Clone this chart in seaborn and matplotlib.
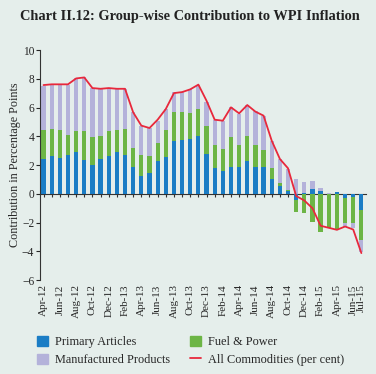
import matplotlib
matplotlib.use("Agg")
import matplotlib.pyplot as plt
from matplotlib.patches import Patch
from matplotlib.lines import Line2D
import numpy as np
import pandas as pd
import seaborn as sns

# meses de Apr-12 a Jul-15
meses = pd.date_range("2012-04-01", "2015-07-01", freq="MS").strftime("%b-%y").tolist()

primary = [2.40, 2.66, 2.49, 2.72, 2.93, 2.35, 2.00, 2.42, 2.66, 2.88,
           2.73, 1.85, 1.27, 1.44, 2.27, 2.59, 3.66, 3.72, 3.85, 4.05,
           2.78, 1.78, 1.62, 1.85, 1.85, 2.27, 1.85, 1.85, 1.04, 0.53,
           0.23, -0.46, 0.03, 0.32, 0.23, 0.02, 0.12, -0.28, -0.19, -1.11]
fuel = [2.02, 1.84, 1.94, 1.36, 1.42, 2.02, 1.94, 1.63, 1.69, 1.56,
        1.78, 1.37, 1.45, 1.22, 1.27, 1.85, 2.01, 1.95, 1.75, 1.85,
        1.92, 1.65, 1.51, 2.09, 1.58, 1.78, 1.58, 1.23, 0.74, 0.21,
        0.05, -0.81, -1.36, -1.97, -2.62, -2.40, -2.45, -1.76, -1.85, -2.13]
manuf = [3.10, 3.07, 3.16, 3.49, 3.68, 3.73, 3.40, 3.24, 2.99, 2.85,
         2.78, 2.45, 1.98, 1.92, 1.55, 1.46, 1.39, 1.44, 1.69, 1.70,
         1.67, 1.71, 1.96, 2.08, 2.13, 2.15, 2.31, 2.36, 1.92, 1.69,
         1.46, 1.02, 0.83, 0.56, 0.19, 0.04, 0.00, -0.23, -0.34, -0.81]
all_comm = [7.57, 7.62, 7.62, 7.62, 8.03, 8.10, 7.36, 7.31, 7.36, 7.31,
            7.31, 5.67, 4.75, 4.58, 5.16, 5.90, 7.01, 7.08, 7.27, 7.60,
            6.48, 5.16, 5.09, 6.02, 5.60, 6.18, 5.72, 5.44, 3.70, 2.43,
            1.78, -0.15, -0.46, -1.00, -2.22, -2.36, -2.50, -2.27, -2.48, -4.12]

rotulos = meses[::2] + [meses[-1]]

cor_bg = "#e5eeeb"
cores = {"Primary Articles": "#1b7dc5",
         "Fuel & Power": "#6cb545",
         "Manufactured Products": "#b4b2da"}

sns.set_theme(style="white")
plt.rcParams["font.family"] = ["Liberation Serif", "DejaVu Serif"]

fig = plt.figure(figsize=(3.76, 3.74), dpi=100, facecolor=cor_bg)
ax = fig.add_axes([0.106, 0.251, 0.867, 0.615], facecolor=cor_bg)

x = np.arange(len(meses))
pos = np.zeros(len(x))
neg = np.zeros(len(x))
for nome, vals in [("Primary Articles", primary), ("Fuel & Power", fuel),
                   ("Manufactured Products", manuf)]:
    v = np.array(vals)
    base = np.where(v >= 0, pos, neg)
    ax.bar(x, v, bottom=base, width=0.52, color=cores[nome], linewidth=0)
    pos = pos + np.where(v >= 0, v, 0)
    neg = neg + np.where(v < 0, v, 0)

df_linha = pd.DataFrame({"x": x, "y": all_comm})
sns.lineplot(data=df_linha, x="x", y="y", color="#e8283c", linewidth=1.3, ax=ax)

ax.set_xlim(-0.45, 39.55)
ax.set_ylim(-6, 10)
ax.set_yticks(range(-6, 11, 2))
ax.set_xticks(list(x[::2]) + [x[-1]])
ax.set_xticklabels(rotulos, rotation=90, fontsize=8)
ax.tick_params(axis="x", length=0, pad=3)
ax.tick_params(axis="y", length=3, width=0.8, direction="out", labelsize=8.3, pad=1, left=True)
for s in ["top", "right", "bottom"]:
    ax.spines[s].set_visible(False)
ax.spines["left"].set_color("#333333")
ax.spines["left"].set_linewidth(0.8)
ax.set_xlabel("")
ax.set_ylabel("Contribution in Percentage Points", fontsize=8.7, labelpad=1)

# linha do zero com os tracinhos
zero = ax.secondary_xaxis(6 / 16)
zero.set_xticks(x)
zero.tick_params(axis="x", length=2.5, width=0.8, direction="out", labelbottom=False, labeltop=False, color="#333333")
zero.spines["bottom"].set_color("#333333")
zero.spines["bottom"].set_linewidth(0.8)
zero.spines["top"].set_visible(False)

fig.text(0.053, 0.955, "Chart II.12: Group-wise Contribution to WPI Inflation",
         fontsize=10.4, fontweight="bold", color="#222222", va="center")

handles = [Patch(color=cores["Primary Articles"], label="Primary Articles"),
           Patch(color=cores["Manufactured Products"], label="Manufactured Products"),
           Patch(color=cores["Fuel & Power"], label="Fuel & Power"),
           Line2D([], [], color="#e8283c", linewidth=1.3, label="All Commodities (per cent)")]
fig.legend(handles=handles, ncol=2, loc="upper left", bbox_to_anchor=(0.085, 0.115),
           frameon=False, fontsize=8.8, handlelength=0.9, handleheight=0.9,
           handletextpad=0.6, columnspacing=1.6, labelspacing=0.45, borderaxespad=0)

fig.savefig("out.png", dpi=100, facecolor=cor_bg)
